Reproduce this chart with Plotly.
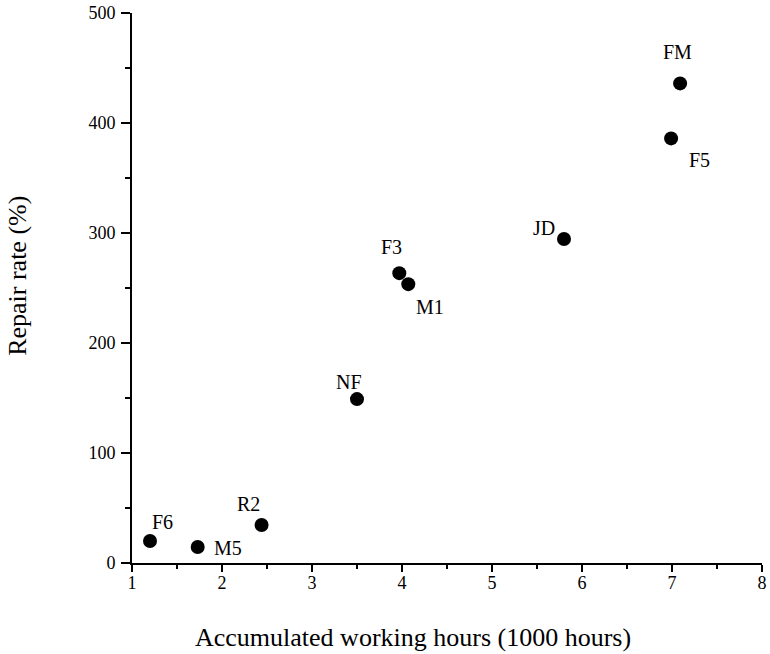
import plotly.graph_objects as go

hours = [1.2, 1.73, 2.44, 3.5, 3.97, 4.07, 5.8, 6.99, 7.09]
repair = [20, 14.5, 34.5, 149, 263.5, 253.5, 294.5, 386, 436]
names = ["F6", "M5", "R2", "NF", "F3", "M1", "JD", "F5", "FM"]
x_ticks = [1, 2, 3, 4, 5, 6, 7, 8]
y_ticks = [0, 100, 200, 300, 400, 500]
x_title = "Accumulated working hours (1000 hours)"
y_title = "Repair rate (%)"

# label offsets in pixels (style only)
dx = [12, 30, -13, -8, -8, 22, -20, 28, -3]
dy = [19, -1, 21, 17, 26, -23, 11, -22, 31]

FONT = "Liberation Serif"

fig = go.Figure()
fig.add_trace(go.Scatter(
    x=hours, y=repair, mode="markers",
    marker=dict(size=14, color="black"),
    showlegend=False, hoverinfo="skip"))

for xv, yv, t, sx, sy in zip(hours, repair, names, dx, dy):
    fig.add_annotation(x=xv, y=yv, text=t, showarrow=False,
                       xshift=sx, yshift=sy,
                       font=dict(family=FONT, size=20, color="black"))

axis_common = dict(
    showline=True, linecolor="black", linewidth=2,
    showgrid=False, zeroline=False,
    ticks="outside", tickcolor="black", tickwidth=2,
    tickfont=dict(family=FONT, size=18, color="black"),
)

fig.update_xaxes(range=[1, 8], tickvals=x_ticks, ticklen=7,
                 minor=dict(dtick=0.5, ticks="outside", ticklen=4, tickwidth=2, tickcolor="black"),
                 ticklabelstandoff=-5,
                 **axis_common)
fig.update_yaxes(range=[0, 500], tickvals=y_ticks, ticklen=9,
                 minor=dict(dtick=50, ticks="outside", ticklen=5, tickwidth=2, tickcolor="black"),
                 ticklabelstandoff=2,
                 **axis_common)

fig.add_annotation(xref="paper", yref="paper", x=0.446, y=-0.136,
                   text=x_title, showarrow=False, xanchor="center", yanchor="middle",
                   font=dict(family=FONT, size=26, color="black"))
fig.add_annotation(xref="paper", yref="paper", x=-0.181, y=0.522,
                   text=y_title, showarrow=False, xanchor="center", yanchor="middle",
                   textangle=-90,
                   font=dict(family=FONT, size=26, color="black"))

fig.update_layout(
    width=770, height=654,
    margin=dict(l=132, r=8, t=13, b=91, autoexpand=False),
    plot_bgcolor="white", paper_bgcolor="white",
    font=dict(family=FONT, color="black"),
)

fig.write_html("out.html")
